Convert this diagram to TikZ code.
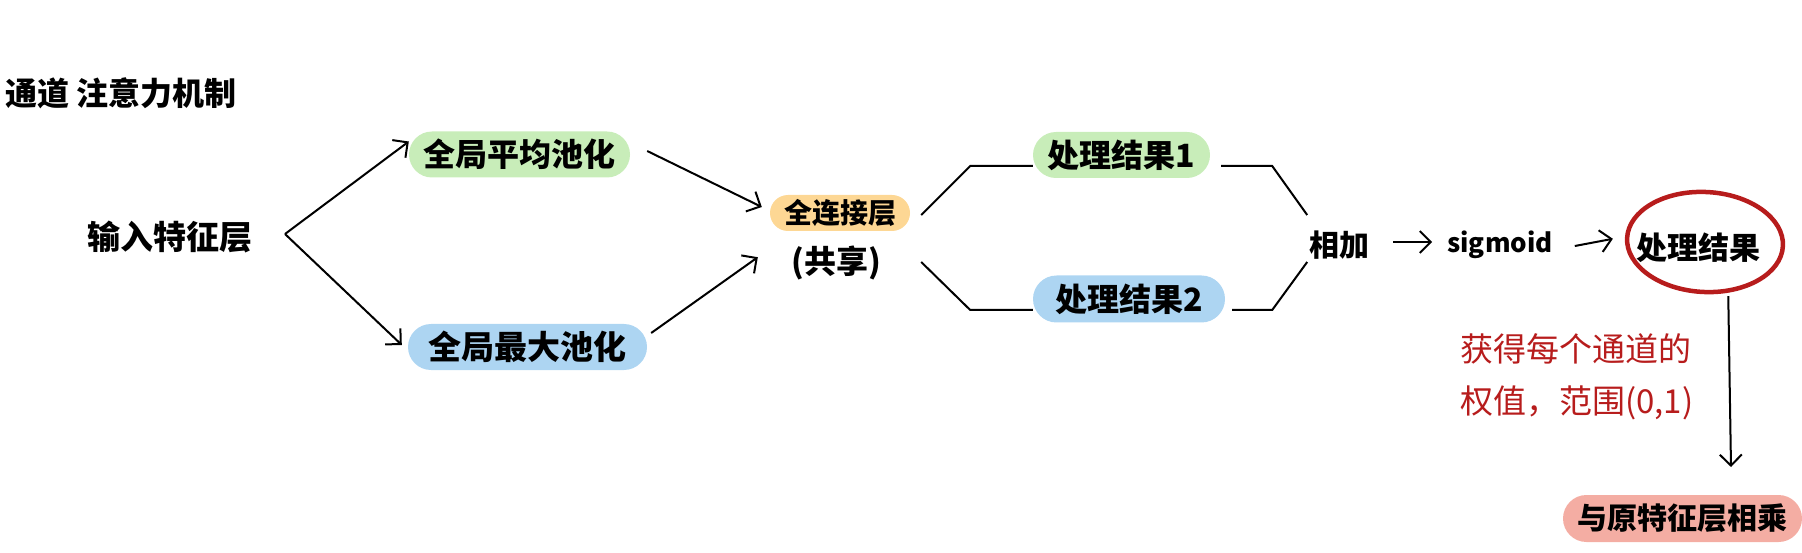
\documentclass[tikz,border=0pt]{standalone}
\usepackage{fontspec}
\newfontfamily\cjk{Noto Sans CJK SC}
\usetikzlibrary{arrows.meta,shapes.geometric}
\definecolor{boxgreen}{HTML}{C8EDB9}
\definecolor{boxblue}{HTML}{ADD5F2}
\definecolor{boxorange}{HTML}{FDD794}
\definecolor{boxpink}{HTML}{F4ADA3}
\definecolor{notered}{HTML}{B71C1C}
\tikzset{
  txt/.style={inner sep=0pt, font=\cjk\bfseries\fontsize{32}{38}\selectfont},
  pill/.style={txt, rounded corners=#1, minimum height=2*#1},
  arr/.style={line width=2pt, -{Straight Barb[length=11pt,width=22pt,line width=2pt]}},
  ln/.style={line width=2pt},
}
\begin{document}
\begin{tikzpicture}[x=1pt,y=-1pt]
\useasboundingbox (0,0) rectangle (1802,553);
% nodes
\node[txt, anchor=west] (title) at (5,93) {通道 注意力机制};
\node[txt, font=\cjk\bfseries\fontsize{33}{38}\selectfont] (in) at (170,237) {输入特征层};
\coordinate (fork) at (285,234);
\node[pill=23pt, fill=boxgreen, minimum width=221pt] (avg) at (519.5,154.5) {全局平均池化};
\node[pill=23pt, fill=boxblue, minimum width=239pt, font=\cjk\bfseries\fontsize{33}{38}\selectfont] (max) at (527.5,347) {全局最大池化};
\node[pill=18pt, fill=boxorange, minimum width=140pt, font=\cjk\bfseries\fontsize{28}{34}\selectfont] (fc) at (840,213) {全连接层};
\node[txt] (share) at (836,263) {(共享)};
\node[pill=23pt, fill=boxgreen, minimum width=177pt] (r1) at (1121.5,155) {处理结果1};
\node[pill=23.5pt, fill=boxblue, minimum width=192pt] (r2) at (1129,299) {处理结果2};
\node[txt, font=\cjk\bfseries\fontsize{30}{36}\selectfont] (add) at (1339,245) {相加};
\node[txt, font=\cjk\bfseries\fontsize{26}{32}\selectfont] (sig) at (1500,245) {sigmoid};
\node[txt, font=\cjk\bfseries\fontsize{31}{36}\selectfont] (res) at (1698,248) {处理结果};
\node[draw=notered, line width=4.5pt, ellipse, minimum width=156pt, minimum height=100pt, inner sep=0pt, rotate=-3] (ell) at (1705,242) {};
\node[txt, text=notered, anchor=west, align=left, font=\cjk\fontsize{33}{52}\selectfont] (note) at (1460,377) {获得每个通道的\\权值，范围(0,1)};
\node[pill=23.5pt, fill=boxpink, minimum width=239pt, font=\cjk\bfseries\fontsize{30}{36}\selectfont] (mul) at (1682.5,518.5) {与原特征层相乘};
\coordinate (mulin) at (1731,467);
% connectors
\draw[arr] (fork) -- ([yshift=13pt]avg.west);
\draw[arr] (fork) -- ([shift={(-6pt,2pt)}]max.west);
\draw[arr] ([shift={(17pt,3.5pt)}]avg.east) -- ([shift={(-8pt,6pt)}]fc.west);
\draw[arr] ([shift={(4pt,14pt)}]max.east) -- ([shift={(-12pt,-26pt)}]fc.south west);
\draw[ln] ([shift={(11pt,-2pt)}]fc.east) -- ++(49,-49) -- ([yshift=-11pt]r1.west);
\draw[ln] ([shift={(11pt,-49pt)}]fc.east) -- ++(49,48) -- ([yshift=-11pt]r2.west);
\draw[ln] ([shift={(11pt,-11pt)}]r1.east) -- ++(51,0) -- ++(35,49);
\draw[ln] ([shift={(7pt,-11pt)}]r2.east) -- ++(40,0) -- ++(35,-48);
\draw[arr] ([shift={(24pt,3pt)}]add.east) -- ([shift={(-15pt,3pt)}]sig.west);
\draw[arr] ([shift={(22pt,-1pt)}]sig.east) -- ([shift={(-12pt,-1pt)}]ell.west);
\draw[arr] ([xshift=26pt,yshift=-2pt]ell.south) -- (mulin);
\end{tikzpicture}
\end{document}
